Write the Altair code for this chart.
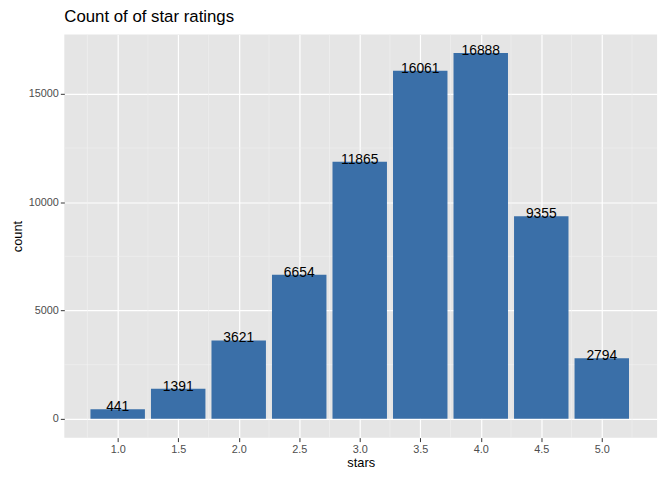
import altair as alt
import pandas as pd

stars = [1.0, 1.5, 2.0, 2.5, 3.0, 3.5, 4.0, 4.5, 5.0]
counts = [441, 1391, 3621, 6654, 11865, 16061, 16888, 9355, 2794]
x_ticks = [1.0, 1.5, 2.0, 2.5, 3.0, 3.5, 4.0, 4.5, 5.0]
x_minor = [0.75, 1.25, 1.75, 2.25, 2.75, 3.25, 3.75, 4.25, 4.75, 5.25]
y_ticks = [0, 5000, 10000, 15000]
y_minor = [2500, 7500, 12500]

df = pd.DataFrame({"stars": stars, "count": counts})
df["x1"] = df["stars"] - 0.225
df["x2"] = df["stars"] + 0.225

xs = alt.Scale(domain=[0.559, 5.457], nice=False, zero=False)
ys = alt.Scale(domain=[-866, 17736], nice=False, zero=False)
F = "Liberation Sans"

xmin = alt.Chart(pd.DataFrame({"v": x_minor})).mark_rule(color="#f2f2f2", strokeWidth=0.6).encode(
    x=alt.X("v:Q", scale=xs))
ymin = alt.Chart(pd.DataFrame({"v": y_minor})).mark_rule(color="#f2f2f2", strokeWidth=0.6).encode(
    y=alt.Y("v:Q", scale=ys))

bars = alt.Chart(df).mark_rect(color="#3A6FA8").encode(
    x=alt.X("x1:Q", scale=xs, title="stars",
            axis=alt.Axis(values=x_ticks, format=".1f", grid=True, gridColor="white", gridWidth=1.2,
                          domain=False, tickColor="#333", tickSize=4, labelColor="#4d4d4d",
                          labelFontSize=11, titleFontSize=13, titleFontWeight="normal", titleColor="black",
                          labelFont=F, titleFont=F, titlePadding=2)),
    x2="x2:Q",
    y=alt.Y("count:Q", scale=ys, title="count",
            axis=alt.Axis(values=y_ticks, format="d", grid=True, gridColor="white", gridWidth=1.2,
                          domain=False, tickColor="#333", tickSize=4, labelColor="#4d4d4d",
                          labelFontSize=11, titleFontSize=13, titleFontWeight="normal", titleColor="black",
                          labelFont=F, titleFont=F, titlePadding=4)),
    y2=alt.datum(0),
)
labels = alt.Chart(df).mark_text(font=F, fontSize=14, color="black", baseline="middle", dy=-2).encode(
    x=alt.X("stars:Q", scale=xs), y=alt.Y("count:Q", scale=ys), text="count:Q")

chart = alt.layer(xmin, ymin, bars, labels).properties(
    width=600, height=408,
    title=alt.Title("Count of of star ratings", anchor="start", frame="group", font=F, fontSize=17,
                    fontWeight="normal", offset=8),
    autosize=alt.AutoSizeParams(type="none"),
    padding={"left": 57, "top": 24, "right": 7, "bottom": 40},
).configure_view(fill="#e5e5e5", stroke=None)

chart.save("out.html", embed_options={"renderer": "svg", "actions": False})
